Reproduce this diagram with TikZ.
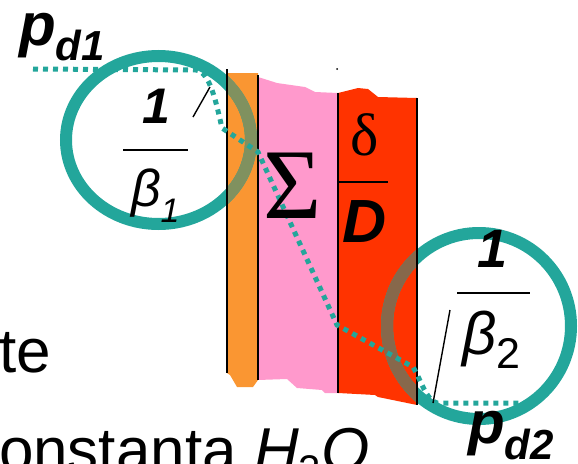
\documentclass[tikz,border=0pt]{standalone}
\usepackage{fontspec}
\setmainfont{Liberation Sans}
\newfontfamily\seriffont{Liberation Serif}
\usepackage{tikz}
\definecolor{orangelayer}{RGB}{250,150,50}
\definecolor{pinklayer}{RGB}{255,153,204}
\definecolor{redlayer}{RGB}{255,51,0}
\definecolor{ringteal}{RGB}{35,166,155}
\definecolor{ringonorange}{RGB}{128,145,95}
\definecolor{ringonred}{RGB}{135,104,75}
\tikzset{
  ring/.style={draw=ringteal, line width=12pt},
  profile/.style={draw=ringteal, line width=5pt, dash pattern=on 5pt off 5pt},
  wall/.style={draw=black, line width=1.6pt},
  txt/.style={inner sep=0pt, outer sep=0pt}
}

\begin{document}
\begin{tikzpicture}[x=1pt, y=-1pt]
    \useasboundingbox (0,0) rectangle (578,463);

    % Layers
    \fill[orangelayer] (227,73) -- (258,73) -- (258,380) -- (253,387) -- (237,387) -- (230,375) -- (227,373) -- cycle;
    \fill[pinklayer] (258,77) -- (277,83) -- (305,87) -- (315,92) -- (338,93) -- (338,393) -- (325,393) -- (322,390) -- (297,388) -- (287,379) -- (258,380) -- cycle;
    \fill[redlayer] (338,93) -- (350,90) -- (358,88) -- (368,89) -- (378,97) -- (417,98) -- (417,405) -- (378,397) -- (375,395) -- (338,393) -- cycle;

    % Rings
    \draw[ring] (158.5,140) ellipse [x radius=92.5, y radius=84];
    \draw[ring] (479,326) ellipse [x radius=92, y radius=93];
    \begin{scope}
      \clip (227,73) rectangle (258,387);
      \draw[ring, draw=ringonorange] (158.5,140) ellipse [x radius=92.5, y radius=84];
    \end{scope}
    \begin{scope}
      \clip (338,93) -- (417,98) -- (417,405) -- (338,393) -- cycle;
      \draw[ring, draw=ringonred] (479,326) ellipse [x radius=92, y radius=93];
    \end{scope}

    % Walls
    \draw[wall] (227,69) -- (227,373);
    \draw[wall] (258,75) -- (258,380);
    \draw[wall] (338,93) -- (338,393);
    \draw[wall] (417,98) -- (417,405);
    \fill (337,69) circle (1pt);

    % Pressure profile
    \draw[profile] (33,69) -- (196,70) .. controls (210,72) and (216,102) .. (222,128)
      -- (258,152) -- (337,325) -- (413,367) .. controls (422,382) and (426,400) .. (437,403) -- (535,403);

    % Resistances
    \node[txt, anchor=base] (onea) at (156,123) {\fontsize{50}{50}\selectfont\bfseries\itshape 1};
    \draw[line width=1.6pt] (123,150) -- (188,150);
    \node[txt, anchor=base west] (betaa) at (131,206) {\fontsize{52}{52}\selectfont\itshape β\raisebox{-16pt}{\fontsize{34}{34}\selectfont 1}};
    \draw[line width=1.4pt] (210,87) -- (193,117);

    \node[txt, anchor=base west] (sigma) at (263,218) {\seriffont\fontsize{100}{100}\selectfont Σ};
    \node[txt, anchor=base] (delta) at (365,155) {\seriffont\fontsize{60}{60}\selectfont δ};
    \draw[line width=1.6pt] (338,182) -- (388,182);
    \node[txt, anchor=base] (dcoef) at (365,242) {\fontsize{61}{61}\selectfont\bfseries\itshape D};

    \node[txt, anchor=base] (oneb) at (493,267) {\fontsize{54}{54}\selectfont\bfseries\itshape 1};
    \draw[line width=1.6pt] (457,293) -- (530,293);
    \node[txt, anchor=base west] (betab) at (462,354) {\fontsize{60}{60}\selectfont\itshape β\raisebox{-14pt}{\fontsize{43}{43}\selectfont\upshape 2}};
    \draw[line width=1.4pt] (450,310) -- (433,403);

    % Partial pressures
    \node[txt, anchor=base west] (pda) at (19,45) {\fontsize{60}{60}\selectfont\bfseries\itshape p\raisebox{-15pt}{\fontsize{42}{42}\selectfont d1}};
    \node[txt, anchor=base west] (pdb) at (468,443) {\fontsize{60}{60}\selectfont\bfseries\itshape p\raisebox{-16pt}{\fontsize{42}{42}\selectfont d2}};

    % Cut-off text
    \node[txt, anchor=base west] (tepart) at (-1,372) {\fontsize{62}{62}\selectfont te};
    \node[txt, anchor=base west] (constpart) at (-1,471) {\fontsize{62}{62}\selectfont onstanta \textit{H}\raisebox{-12pt}{\fontsize{40}{40}\selectfont 2}\textit{O}};
\end{tikzpicture}
\end{document}
